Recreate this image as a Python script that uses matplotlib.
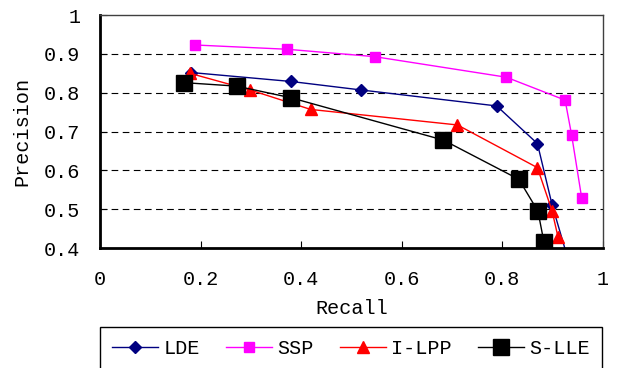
import matplotlib.pyplot as plt

# recall / precision
lde_recall = [0.182, 0.380, 0.520, 0.789, 0.870, 0.899, 0.930]
lde_precision = [0.852, 0.829, 0.807, 0.766, 0.669, 0.512, 0.375]
ssp_recall = [0.189, 0.372, 0.546, 0.808, 0.925, 0.938, 0.958]
ssp_precision = [0.923, 0.912, 0.893, 0.840, 0.781, 0.691, 0.529]
ilpp_recall = [0.179, 0.299, 0.419, 0.711, 0.870, 0.899, 0.911]
ilpp_precision = [0.850, 0.807, 0.757, 0.717, 0.607, 0.496, 0.428]
slle_recall = [0.167, 0.272, 0.380, 0.683, 0.833, 0.871, 0.883]
slle_precision = [0.826, 0.817, 0.787, 0.678, 0.577, 0.495, 0.415]

x_ticks = [0, 0.2, 0.4, 0.6, 0.8, 1]
y_ticks = [0.4, 0.5, 0.6, 0.7, 0.8, 0.9, 1]

plt.rcParams['font.family'] = ['Liberation Mono', 'DejaVu Sans Mono']
fs = 14.5

fig = plt.figure(figsize=(6.17, 3.68), dpi=100)
ax = fig.add_axes([0.162, 0.326, 0.815, 0.633])

ax.plot(lde_recall, lde_precision, color='#000080', lw=1, marker='D', ms=6, label='LDE')
ax.plot(ssp_recall, ssp_precision, color='#FF00FF', lw=1, marker='s', ms=7, label='SSP')
ax.plot(ilpp_recall, ilpp_precision, color='#FF0000', lw=1, marker='^', ms=9, label='I-LPP')
ax.plot(slle_recall, slle_precision, color='black', lw=1, marker='s', ms=11, label='S-LLE')

ax.set_xlim(0, 1)
ax.set_ylim(0.4, 1)
ax.set_xticks(x_ticks)
ax.set_yticks(y_ticks)
ax.set_xticklabels(['0', '0.2', '0.4', '0.6', '0.8', '1'])
ax.set_yticklabels(['0.4', '0.5', '0.6', '0.7', '0.8', '0.9', '1'])
ax.tick_params(direction='in', length=5, labelsize=fs)
ax.tick_params(axis='x', pad=16)
ax.tick_params(axis='y', pad=14)

# dashed grid lines, not on the top border
for y in y_ticks[1:-1]:
    ax.axhline(y, color='black', lw=0.8, ls=(0, (6, 4)), zorder=0.5)

for side in ['left', 'bottom']:
    ax.spines[side].set_linewidth(2)
for side in ['top', 'right']:
    ax.spines[side].set_linewidth(1)
    ax.spines[side].set_color('#404040')

ax.set_xlabel('Recall', fontsize=fs, labelpad=7)
ax.set_ylabel('Precision', fontsize=fs, labelpad=9)

leg = fig.legend(loc='upper left', ncol=4, mode='expand',
                 bbox_to_anchor=(0.162, 0.0, 0.814, 0.111),
                 bbox_transform=fig.transFigure, fontsize=fs,
                 handlelength=2.3, handletextpad=0.25, fancybox=False,
                 edgecolor='black', framealpha=1, borderaxespad=0,
                 borderpad=0.6)
leg.get_frame().set_linewidth(1)

plt.savefig('out.png', dpi=100)
